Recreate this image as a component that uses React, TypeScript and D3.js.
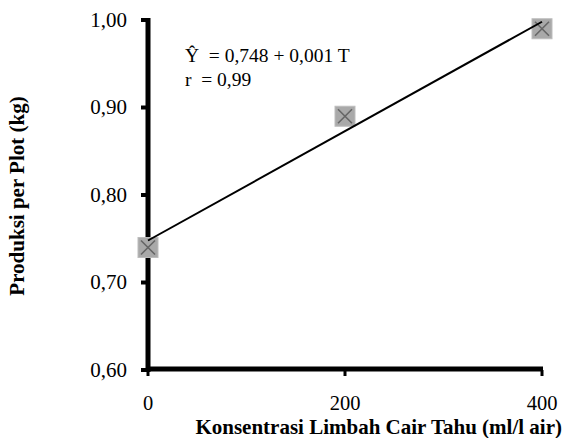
import React from "react";
import * as d3 from "d3";

const xValues = [0, 200, 400];
const yValues = [0.74, 0.89, 0.99];
const lineX = [0, 400];
const lineY = [0.748, 0.998];
const yTicks = [0.6, 0.7, 0.8, 0.9, 1.0];
const xTicks = [0, 200, 400];
const equationLines = ["Ŷ  = 0,748 + 0,001 T", "r  = 0,99"];
const xTitle = "Konsentrasi Limbah Cair Tahu (ml/l air)";
const yTitle = "Produksi per Plot (kg)";

const W = 565;
const H = 438;
const left = 148;
const right = 542;
const top = 20;
const bottom = 370;
const font = "'Liberation Serif', 'Times New Roman', serif";

export default function App() {
  const x = d3.scaleLinear().domain([0, 400]).range([left, right]);
  const y = d3.scaleLinear().domain([0.6, 1.0]).range([bottom, top]);
  const fmt = (v: number) => v.toFixed(2).replace(".", ",");
  const line = d3
    .line<number>()
    .x((_, i) => x(lineX[i]))
    .y((d) => y(d));
  const ms = 10;
  return (
    <svg
      width={W}
      height={H}
      style={{ position: "absolute", left: 0, top: 0, background: "#fff" }}
      fontFamily={font}
    >
      {/* y ticks */}
      {yTicks.map((t) => (
        <g key={t}>
          <line x1={left - 7} x2={left} y1={y(t)} y2={y(t)} stroke="#000" strokeWidth={4} />
          <text x={127} y={y(t)} dy="0.33em" textAnchor="end" fontSize={21}>
            {fmt(t)}
          </text>
        </g>
      ))}
      {/* x ticks */}
      {xTicks.map((t) => (
        <g key={t}>
          <line x1={x(t)} x2={x(t)} y1={bottom} y2={bottom + 6} stroke="#000" strokeWidth={3} />
          <text x={x(t)} y={410} textAnchor="middle" fontSize={20.5}>
            {t}
          </text>
        </g>
      ))}
      {/* axes */}
      <line x1={left} x2={left} y1={top - 2} y2={bottom + 2} stroke="#000" strokeWidth={5} />
      <line x1={left - 2} x2={right + 1} y1={bottom - 1} y2={bottom - 1} stroke="#000" strokeWidth={5} />
      {/* markers */}
      {xValues.map((v, i) => {
        const cx = x(v);
        const cy = y(yValues[i]);
        return (
          <g key={v}>
            <rect x={cx - ms} y={cy - ms} width={ms * 2} height={ms * 2} fill="#a9a9a9" stroke="#bdbdbd" strokeWidth={1} />
            <line x1={cx - 7} y1={cy - 7} x2={cx + 7} y2={cy + 7} stroke="#666" strokeWidth={1.6} />
            <line x1={cx - 7} y1={cy + 7} x2={cx + 7} y2={cy - 7} stroke="#666" strokeWidth={1.6} />
          </g>
        );
      })}
      {/* regression line */}
      <path d={line(lineY) || ""} fill="none" stroke="#000" strokeWidth={2} />
      {/* equation */}
      {equationLines.map((s, i) => (
        <text key={i} x={185} y={62 + i * 24} fontSize={19.5} style={{ whiteSpace: "pre" }}>
          {s}
        </text>
      ))}
      {/* titles */}
      <text x={562} y={434} textAnchor="end" fontSize={21} fontWeight="bold">
        {xTitle}
      </text>
      <text
        transform={`translate(24, 196) rotate(-90)`}
        textAnchor="middle"
        fontSize={21}
        fontWeight="bold"
      >
        {yTitle}
      </text>
    </svg>
  );
}
